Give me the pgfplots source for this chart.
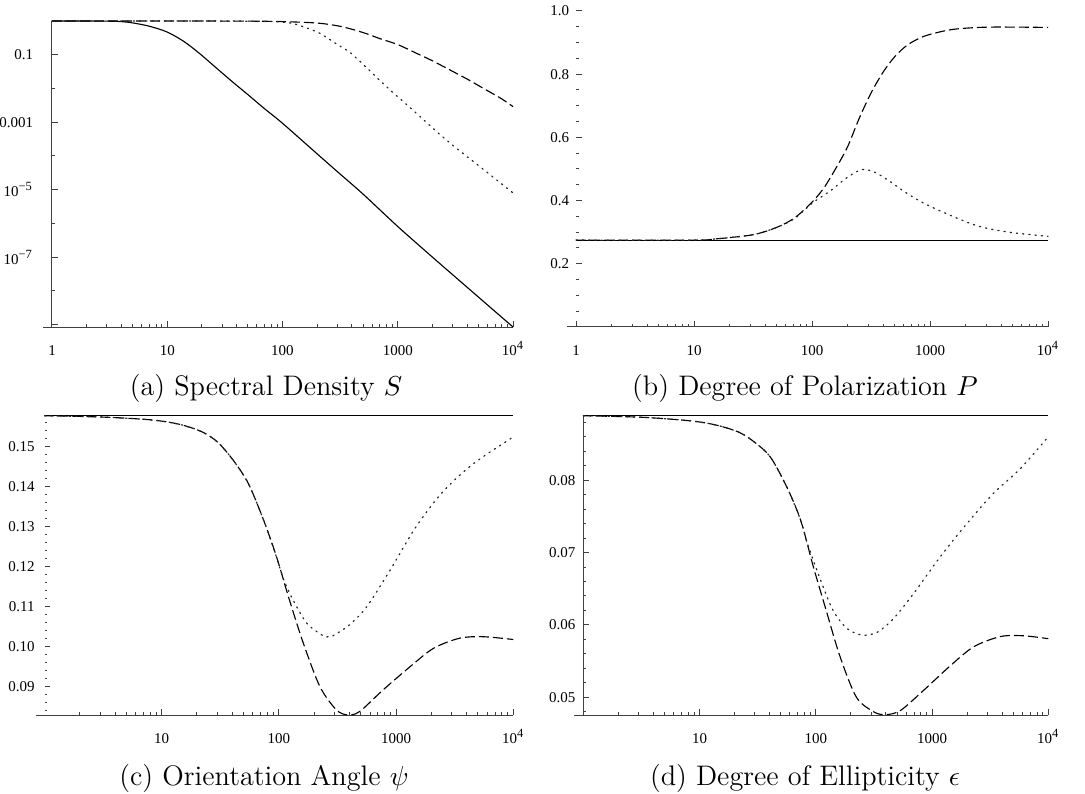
\documentclass[border=0pt]{standalone}
\usepackage{fontspec}
\usepackage{pgfplots}
\pgfplotsset{compat=1.18}
\newfontfamily\tickfont{Liberation Serif}

% Mathematica-like panel look
\pgfplotsset{
  panel/.style={
    scale only axis, anchor=south west, clip=false,
    axis x line*=bottom, axis y line*=left,
    axis line style={black!75, line width=0.4pt, -},
    x axis line style={shorten <=-3.6pt},
    tick style={black!75, line width=0.4pt},
    tick align=inside,
    major tick length=2.4pt, minor tick length=1.2pt,
    scaled y ticks=false,
    xmin=1, xmax=10000,
    minor xtick={2,3,...,9,20,30,...,90,200,300,...,900,2000,3000,...,9000},
    tick label style={font=\tickfont\fontsize{6}{7}\selectfont},
    xticklabel style={yshift=-4pt, text height=4pt, text depth=0pt},
  },
  solidc/.style={black, line width=0.45pt, smooth},
  dashc/.style={black, line width=0.45pt, smooth, dash pattern=on 4pt off 1.6pt},
  dotc/.style={black!85, line width=0.5pt, smooth, dash pattern=on 0.5pt off 2pt, line cap=round},
}

\begin{document}
\begin{tikzpicture}
\useasboundingbox (0,0) rectangle (434pt,-317.6pt);

% (a) Spectral density
\begin{loglogaxis}[panel, at={(20.8pt,-130.8pt)}, width=184.4pt, height=122.4pt,
    ymin=8.5e-10, ymax=1,
    xtick={1,10,100,1000,10000}, xticklabels={1,10,100,1000,10\textsuperscript{4}},
    ytick={1e-1,1e-3,1e-5,1e-7,1e-9},
    yticklabels={0.1,0.001,10\textsuperscript{−5},10\textsuperscript{−7},{}},
    minor ytick={1e-2,1e-4,1e-6,1e-8},
    yticklabel style={xshift=-4pt},
]
\addplot[solidc] coordinates {
 (1,1) (2,0.997) (3,0.99) (4,0.96) (5,0.88) (7,0.70) (10,0.47) (14,0.245)
 (19,0.11) (27,0.039) (37,0.0155) (50,0.0066) (70,0.0025) (100,0.00093)
 (200,1.15e-4) (300,3.4e-5) (500,7.4e-6) (1000,8.1e-7) (2000,1.0e-7)
 (3000,3.0e-8) (5000,6.6e-9) (10000,8.5e-10)
};
\addplot[dashc] coordinates {
 (1,1) (10,1) (50,0.99) (100,0.96) (200,0.87) (300,0.72) (400,0.57)
 (537,0.42) (700,0.3) (1000,0.2) (1500,0.105) (2000,0.066) (3000,0.032)
 (4000,0.019) (6000,0.0086) (8000,0.0049) (10000,0.0029)
};
\addplot[dotc] coordinates {
 (1,1) (10,1) (50,0.99) (100,0.93) (130,0.8) (160,0.63) (209,0.44)
 (300,0.2) (407,0.1) (794,0.0115) (1350,0.0023) (2630,3.0e-4)
 (5130,4.9e-5) (10000,8e-6)
};
\end{loglogaxis}

% (b) Degree of polarization
\begin{semilogxaxis}[panel, at={(230.4pt,-130.8pt)}, width=188.8pt, height=126.4pt,
    y axis line style={draw=none},
    ymin=0, ymax=1,
    xtick={1,10,100,1000,10000}, xticklabels={1,10,100,1000,10\textsuperscript{4}},
    ytick={0.2,0.4,0.6,0.8,1.0}, yticklabels={0.2,0.4,0.6,0.8,1.0},
    minor ytick={0.05,0.1,0.15,0.25,0.3,0.35,0.45,0.5,0.55,0.65,0.7,0.75,0.85,0.9,0.95},
    yticklabel style={xshift=0.8pt},
]
\addplot[solidc] coordinates {(1,0.275) (10000,0.275)};
\addplot[dashc] coordinates {
 (1,0.275) (10,0.275) (15.5,0.279) (31.6,0.292) (50,0.315) (71,0.345)
 (100,0.395) (126,0.44) (158,0.50) (200,0.57) (251,0.66) (316,0.74)
 (398,0.805) (501,0.855) (631,0.89) (794,0.912) (1000,0.926) (1585,0.942)
 (3162,0.949) (10000,0.948)
};
\addplot[dotc] coordinates {
 (1,0.275) (10,0.275) (15.5,0.279) (31.6,0.292) (50,0.315) (71,0.343)
 (102,0.394) (141,0.429) (195,0.471) (263,0.498) (339,0.49) (457,0.461)
 (631,0.424) (1000,0.382) (2340,0.324) (4470,0.301) (10000,0.287)
};
\end{semilogxaxis}

% (c) Orientation angle
\begin{semilogxaxis}[panel, at={(17.8pt,-286pt)}, width=187.5pt, height=119.7pt,
    y axis line style={draw=none},
    ymin=0.0829, ymax=0.1578,
    xtick={10,100,1000,10000}, xticklabels={10,100,1000,10\textsuperscript{4}},
    ytick={0.09,0.10,0.11,0.12,0.13,0.14,0.15},
    yticklabels={0.09,0.10,0.11,0.12,0.13,0.14,0.15},
    minor ytick={0.084,0.086,0.088,0.092,0.094,0.096,0.098,0.102,0.104,0.106,0.108,
      0.112,0.114,0.116,0.118,0.122,0.124,0.126,0.128,0.132,0.134,0.136,0.138,
      0.142,0.144,0.146,0.148,0.152,0.154,0.156},
    yticklabel style={xshift=-0.4pt},
]
\addplot[solidc] coordinates {(1,0.1578) (10000,0.1578)};
\addplot[dashc] coordinates {
 (1,0.1578) (2.95,0.1575) (7.9,0.1568) (14,0.1557) (22,0.1538) (30,0.1512)
 (40.7,0.1467) (55,0.1408) (74,0.1317) (95.5,0.1225) (123,0.1117)
 (162,0.1008) (224,0.09) (309,0.0842) (389,0.0829) (490,0.0838)
 (776,0.0892) (1318,0.095) (2089,0.0996) (3467,0.1021) (5495,0.1025)
 (10000,0.1018)
};
\addplot[dotc] coordinates {
 (1,0.1578) (2.95,0.1575) (7.9,0.1568) (14,0.1557) (22,0.1538) (30,0.1512)
 (40.7,0.1467) (55,0.1408) (74,0.1317) (92,0.1238) (110,0.1168)
 (132,0.1117) (174,0.1058) (240,0.1027) (263,0.1025) (288,0.1027)
 (398,0.1054) (562,0.11) (891,0.1192) (1479,0.13) (2512,0.1388)
 (4571,0.1458) (10000,0.1525)
};
\end{semilogxaxis}

% (d) Degree of ellipticity
\begin{semilogxaxis}[panel, at={(233.3pt,-286pt)}, width=186pt, height=119.7pt,
    ymin=0.04756, ymax=0.0889,
    xtick={10,100,1000,10000}, xticklabels={10,100,1000,10\textsuperscript{4}},
    ytick={0.05,0.06,0.07,0.08}, yticklabels={0.05,0.06,0.07,0.08},
    minor ytick={0.048,0.052,0.054,0.056,0.058,0.062,0.064,0.066,0.068,
      0.072,0.074,0.076,0.078,0.082,0.084,0.086,0.088},
    yticklabel style={xshift=0.4pt},
]
\addplot[solidc] coordinates {(1,0.0889) (10000,0.0889)};
\addplot[dashc] coordinates {
 (1,0.0889) (3.1,0.0887) (8.3,0.0882) (14,0.0876) (22,0.0866) (30,0.0852)
 (40.7,0.0832) (56.2,0.0791) (74,0.0745) (95.5,0.068) (123,0.062)
 (162,0.0556) (224,0.05) (316,0.048) (398,0.0476) (537,0.0482)
 (851,0.051) (1445,0.0544) (2291,0.057) (3890,0.0584) (6166,0.0585)
 (10000,0.0581)
};
\addplot[dotc] coordinates {
 (1,0.0889) (3.1,0.0887) (8.3,0.0882) (14,0.0876) (22,0.0866) (30,0.0852)
 (40.7,0.0832) (56.2,0.0791) (74,0.0745) (85,0.0712) (110,0.0662)
 (141,0.062) (186,0.0595) (251,0.0586) (339,0.059) (468,0.0609)
 (692,0.0643) (1175,0.0694) (1995,0.074) (3388,0.0782) (5754,0.0816)
 (10000,0.086)
};
\end{semilogxaxis}

% captions
\begin{scope}[every node/.style={anchor=base, font=\fontsize{11.3}{13}\selectfont}]
\node at (106.4pt,-158.4pt) {(a) Spectral Density $S$};
\node at (322pt,-158.4pt) {(b) Degree of Polarization $P$};
\node at (105.6pt,-314pt) {(c) Orientation Angle $\psi$};
\node at (322pt,-314pt) {(d) Degree of Ellipticity $\epsilon$};
\end{scope}
\end{tikzpicture}
\end{document}
